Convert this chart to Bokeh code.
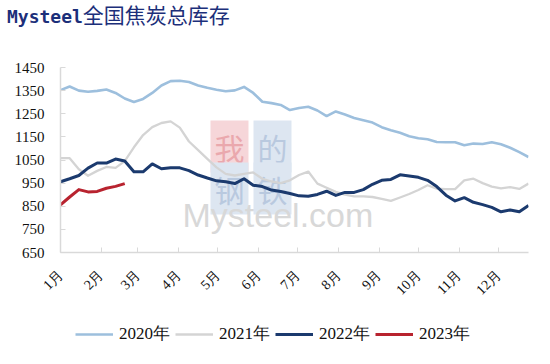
import math
from bokeh.plotting import figure
from bokeh.layouts import column
from bokeh.models import Legend, LegendItem, Label, FixedTicker, Range1d, Div
from bokeh.embed import file_html
from bokeh.resources import INLINE

# ---- data ----
month_labels = ["1月", "2月", "3月", "4月", "5月", "6月", "7月", "8月", "9月", "10月", "11月", "12月"]
month_start_day = [0, 31, 59, 90, 120, 151, 181, 212, 243, 273, 304, 334]
week_no = list(range(52))  # week index within the year

v2020 = [1352, 1368, 1350, 1345, 1349, 1355, 1340, 1316, 1301, 1314, 1340, 1372, 1391,
         1393, 1387, 1372, 1362, 1354, 1347, 1351, 1366, 1340, 1302, 1296, 1288, 1266,
         1275, 1280, 1264, 1240, 1260, 1247, 1232, 1222, 1212, 1192, 1179, 1168, 1153,
         1144, 1140, 1128, 1127, 1127, 1114, 1121, 1119, 1127, 1118, 1103, 1084, 1063]
v2021 = [1058, 1058, 1010, 982, 1003, 1020, 1016, 1045, 1105, 1158, 1192, 1210, 1217,
         1190, 1130, 1093, 1055, 1018, 990, 983, 990, 996, 969, 957, 950, 962,
         985, 1000, 948, 930, 912, 900, 893, 893, 890, 882, 873, 888, 903,
         920, 941, 926, 924, 924, 962, 969, 950, 935, 927, 933, 925, 948]
v2022 = [956, 969, 983, 1015, 1037, 1037, 1054, 1046, 999, 999, 1033, 1012, 1016,
         1016, 1004, 985, 972, 960, 956, 948, 969, 941, 935, 920, 914, 905,
         895, 893, 901, 915, 897, 910, 910, 922, 945, 962, 966, 986, 981,
         975, 962, 935, 898, 873, 887, 867, 857, 845, 826, 834, 826, 853]
v2023 = [856, 890, 922, 912, 914, 928, 936, 948]

series_names = ["2020年", "2021年", "2022年", "2023年"]
series_vals = [v2020, v2021, v2022, v2023]
series_colors = ["#9dbfdd", "#d4d4d4", "#1b3a6e", "#b8232f"]
series_widths = [2.6, 2.3, 3.0, 3.0]

y_ticks = [650, 750, 850, 950, 1050, 1150, 1250, 1350, 1450]

# ---- title ----
title_div = Div(
    text='<span style="font-family:\'DejaVu Sans Mono\';font-weight:bold;font-size:18px;">Mysteel</span>'
         '<span style="font-family:\'Noto Sans CJK SC\';font-size:21px;">全国焦炭总库存</span>',
    width=542, height=34, margin=0,
    styles={"color": "#1c2f7a", "padding-left": "7px", "padding-top": "2px", "line-height": "24px",
            "white-space": "nowrap"})

# ---- main figure ----
p = figure(width=542, height=271, output_backend="svg", toolbar_location=None,
           x_range=Range1d(0, 357), y_range=Range1d(650, 1450),
           min_border_left=60, min_border_right=14, min_border_top=33, min_border_bottom=50)
p.outline_line_color = None
p.xgrid.grid_line_color = None
p.ygrid.grid_line_color = None
p.background_fill_color = "white"

axis_col = "#d9d9d9"
p.yaxis.ticker = FixedTicker(ticks=y_ticks)
p.yaxis.axis_line_color = axis_col
p.yaxis.axis_line_width = 1.5
p.yaxis.major_tick_line_color = axis_col
p.yaxis.major_tick_in = 5
p.yaxis.major_tick_out = 0
p.yaxis.minor_tick_line_color = None
p.yaxis.major_label_text_font = "Liberation Serif"
p.yaxis.major_label_text_font_size = "15px"
p.yaxis.major_label_text_color = "#111111"
p.yaxis.major_label_standoff = 16

p.xaxis.ticker = FixedTicker(ticks=month_start_day)
p.xaxis.major_label_overrides = {d: l for d, l in zip(month_start_day, month_labels)}
p.xaxis.axis_line_color = axis_col
p.xaxis.axis_line_width = 1.5
p.xaxis.major_tick_line_color = axis_col
p.xaxis.major_tick_in = 5
p.xaxis.major_tick_out = 0
p.xaxis.minor_tick_line_color = None
p.xaxis.major_label_orientation = math.pi / 4
p.xaxis.major_label_text_font = "Liberation Serif"
p.xaxis.major_label_text_font_size = "14px"
p.xaxis.major_label_text_color = "#111111"
p.xaxis.major_label_standoff = 20

# ---- watermark ----
wm_boxes = [("我", 169, 106, "#f6d6d9", "#eaa8ad"),
            ("的", 212, 106, "#dde6f1", "#b9c9df"),
            ("钢", 169, 64, "#dde6f1", "#b9c9df"),
            ("铁", 212, 64, "#dde6f1", "#b9c9df")]
for ch, cx, cy, bg, fg in wm_boxes:
    p.add_layout(Label(x=cx, y=cy, x_units="screen", y_units="screen", text=ch,
                       text_align="center", text_baseline="middle",
                       text_font="Noto Sans CJK SC", text_font_size="30px",
                       text_color=fg, background_fill_color=bg, padding=4,
                       level="underlay"))
p.add_layout(Label(x=122, y=38, x_units="screen", y_units="screen", text="Mysteel.com",
                   text_align="left", text_baseline="alphabetic",
                   text_font="Liberation Sans", text_font_size="34px",
                   text_color="#d8d8d8", level="underlay"))

# ---- lines ----
for name, vals, col, w in zip(series_names, series_vals, series_colors, series_widths):
    xs = [k * 7 for k in week_no[:len(vals)]]
    p.line(xs, vals, line_color=col, line_width=w, line_join="round")

# ---- legend strip (same series, outside its visible range; only the legend shows) ----
pl = figure(width=542, height=55, output_backend="svg", toolbar_location=None,
            x_axis_type=None, y_axis_type=None, x_range=Range1d(0, 1), y_range=Range1d(0, 1),
            min_border=0)
pl.outline_line_color = None
pl.xgrid.grid_line_color = None
pl.ygrid.grid_line_color = None
items = []
for name, vals, col, w in zip(series_names, series_vals, series_colors, series_widths):
    xs = [k * 7 for k in week_no[:len(vals)]]
    r = pl.line(xs, vals, line_color=col, line_width=w)
    items.append(LegendItem(label=name, renderers=[r]))
legend = Legend(items=items, orientation="horizontal", location=(15, 15),
                glyph_width=38, glyph_height=20, label_height=20, label_standoff=6, spacing=5,
                padding=0, margin=0, border_line_alpha=0, background_fill_alpha=0,
                label_text_font="Liberation Serif", label_text_font_size="17px",
                label_text_color="#111111")
pl.add_layout(legend, "center")

layout = column(title_div, p, pl, spacing=0)
open("out.html", "w").write(file_html(layout, INLINE))
